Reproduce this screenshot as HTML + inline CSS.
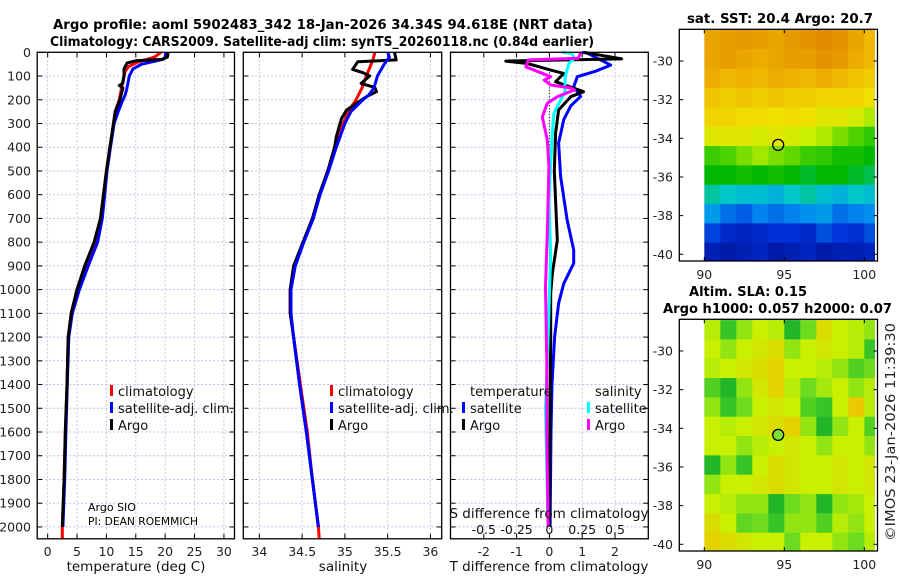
<!DOCTYPE html>
<html><head><meta charset="utf-8"><title>Argo profile</title>
<style>
html,body{margin:0;padding:0;background:#fff;}
svg{display:block;font-family:"DejaVu Sans","Liberation Sans",sans-serif;}
</style></head>
<body>
<svg id="fig" xmlns="http://www.w3.org/2000/svg" width="900" height="580" viewBox="0 0 900 580">
<rect x="0" y="0" width="900" height="580" fill="#fff"/>
<text x="53" y="29" font-size="13" font-weight="bold" textLength="540" lengthAdjust="spacingAndGlyphs">Argo profile: aoml 5902483_342 18-Jan-2026 34.34S 94.618E (NRT data)</text>
<text x="50" y="46" font-size="13" font-weight="bold" textLength="544" lengthAdjust="spacingAndGlyphs">Climatology: CARS2009. Satellite-adj clim: synTS_20260118.nc (0.84d earlier)</text>
<g id="layer"></g>
<text x="687" y="23" font-size="13" font-weight="bold" textLength="186" lengthAdjust="spacingAndGlyphs">sat. SST: 20.4 Argo: 20.7</text>
<text x="689" y="296" font-size="13" font-weight="bold" textLength="118" lengthAdjust="spacingAndGlyphs">Altim. SLA: 0.15</text>
<text x="663" y="313" font-size="13" font-weight="bold" textLength="229" lengthAdjust="spacingAndGlyphs">Argo h1000: 0.057 h2000: 0.07</text>
<text x="0" y="0" font-size="13" fill="#222" text-anchor="middle" transform="translate(895,432) rotate(-90)" textLength="218" lengthAdjust="spacingAndGlyphs">©IMOS 23-Jan-2026 11:39:30</text>
<text x="88" y="511" font-size="11">Argo SIO</text>
<text x="88" y="525" font-size="11" textLength="110" lengthAdjust="spacingAndGlyphs">PI: DEAN ROEMMICH</text>
</svg>
<script>
// ---------- data ----------
const depthTicks = [0,100,200,300,400,500,600,700,800,900,1000,1100,1200,1300,1400,1500,1600,1700,1800,1900,2000];
const tempTicks = [0,5,10,15,20,25,30];
const salTicks = [34,34.5,35,35.5,36];
const salTickLabels = ["34","34.5","35","35.5","36"];
const dTTicks = [-2,-1,0,1,2];
const dSTicks = [-0.5,-0.25,0,0.25,0.5];
const dSTickLabels = ["-0.5","-0.25","0","0.25","0.5"];

const climTempDepth = [0,20,40,60,80,120,160,200,250,300,400,500,600,700,800,900,1000,1100,1200,1400,1600,1800,2000,2050];
const climTempVal = [19.3,18.2,15.5,13.8,13.2,12.8,12.5,12.2,11.5,11.2,10.6,10.0,9.5,9.0,8.0,6.4,5.0,4.0,3.5,3.3,3.0,2.8,2.5,2.5];
const satTempDepth = [0,20,30,50,70,100,150,180,200,250,300,400,500,600,700,800,900,1000,1100,1200,1400,1600,1800,2000];
const satTempVal = [20.1,20.0,19.6,16.0,14.5,13.9,13.5,13.2,12.8,12.0,11.3,10.7,10.1,9.7,9.3,8.5,6.9,5.4,4.2,3.6,3.35,3.1,2.9,2.6];
const argoTempDepth = [0,20,30,36,45,70,100,130,140,150,200,250,300,400,500,600,700,800,900,1000,1100,1200,1400,1600,1800,2000];
const argoTempVal = [20.5,20.4,19.5,15.0,13.5,13.0,13.0,12.8,12.2,12.8,12.3,11.5,11.2,10.6,10.0,9.5,9.0,7.9,6.3,5.0,4.0,3.5,3.3,3.0,2.8,2.5];

const climSalDepth = [0,30,100,150,200,250,300,400,500,600,700,800,900,1000,1100,1200,1400,1600,1800,2000,2050];
const climSalVal = [35.35,35.33,35.25,35.2,35.13,35.04,34.98,34.88,34.80,34.70,34.63,34.51,34.41,34.36,34.36,34.40,34.48,34.56,34.62,34.69,34.70];
const satSalDepth = [0,20,50,100,150,180,200,250,300,400,500,600,700,800,900,1000,1100,1200,1400,1600,1800,2000];
const satSalVal = [35.5,35.52,35.46,35.38,35.34,35.28,35.21,35.07,35.0,34.9,34.81,34.71,34.63,34.52,34.42,34.37,34.37,34.40,34.47,34.55,34.62,34.69];
const argoSalDepth = [0,32,40,72,86,100,131,148,166,187,243,279,356,400,500,600,700,800,900,1000,1100,1200,1400,1600,1800,2000];
const argoSalVal = [35.58,35.6,35.15,35.09,35.21,35.29,35.19,35.35,35.37,35.25,35.02,34.96,34.9,34.88,34.80,34.70,34.62,34.51,34.40,34.36,34.36,34.40,34.47,34.55,34.62,34.69];

const dTSatDepth = [0,3,54,80,103,145,186,226,283,382,523,706,833,889,974,1058,1200,1400,1600,2000];
const dTSatVal = [1.0,1.15,1.87,1.4,0.85,0.74,0.95,0.65,0.44,0.28,0.34,0.54,0.74,0.74,0.44,0.28,0.16,0.08,0.05,0.02];
const dTArgoDepth = [0,28,37,47,75,89,124,166,187,243,341,500,792,931,1015,1200,1500,2000];
const dTArgoVal = [1.05,2.2,-1.33,-0.67,0.04,0.44,0.19,1.04,0.65,0.28,0.19,0.15,0.24,0.09,0.04,0.04,0.02,0.0];
const dSSatDepth = [0,5,25,46,103,166,201,257,342,623,848,1200,1500,2000];
const dSSatVal = [0.1,0.17,0.19,0.15,0.12,0.12,0.085,0.034,0.022,-0.004,0.01,-0.01,-0.03,-0.01];
const dSArgoDepth = [0,25,32,61,103,117,138,150,159,187,215,272,370,483,763,989,1300,1600,2000];
const dSArgoVal = [0.24,0.22,-0.16,-0.18,0.01,-0.04,0.01,0.16,0.19,0.06,-0.016,-0.054,-0.016,-0.004,-0.016,-0.03,-0.02,-0.02,-0.01];

const lonTicks = [90,95,100];
const latTicks = [-30,-32,-34,-36,-38,-40];
const gridLon0 = 90;
const gridLat0 = -28.4;
const argoLon = 94.618;
const argoLat = -34.34;
const sstGrid = [
 [0.9,0.92,0.93,0.92,0.9,0.93,0.95,0.97,0.95,0.9,0.85],
 [0.9,0.92,0.9,0.88,0.9,0.92,0.92,0.95,0.93,0.88,0.85],
 [0.88,0.85,0.87,0.85,0.88,0.87,0.85,0.88,0.85,0.82,0.8],
 [0.82,0.8,0.82,0.8,0.82,0.8,0.8,0.78,0.78,0.78,0.75],
 [0.78,0.78,0.76,0.76,0.75,0.76,0.75,0.72,0.72,0.7,0.66],
 [0.72,0.72,0.72,0.7,0.72,0.7,0.68,0.66,0.62,0.58,0.55],
 [0.56,0.58,0.62,0.65,0.62,0.6,0.56,0.55,0.52,0.52,0.5],
 [0.5,0.5,0.52,0.5,0.52,0.5,0.48,0.5,0.5,0.48,0.46],
 [0.42,0.4,0.38,0.38,0.36,0.4,0.42,0.38,0.36,0.4,0.38],
 [0.32,0.25,0.22,0.28,0.25,0.28,0.3,0.32,0.25,0.28,0.3],
 [0.18,0.12,0.1,0.12,0.15,0.15,0.12,0.2,0.16,0.14,0.2],
 [0.08,0.06,0.08,0.1,0.06,0.08,0.1,0.06,0.08,0.08,0.1]
];
const slaGrid = [
 [0.7,0.3,0.6,0.75,0.7,0.2,0.5,0.85,0.75,0.7,0.6],
 [0.75,0.6,0.75,0.8,0.85,0.6,0.75,0.8,0.75,0.7,0.3],
 [0.7,0.75,0.8,0.85,0.9,0.75,0.75,0.7,0.6,0.4,0.5],
 [0.4,0.2,0.6,0.8,0.9,0.7,0.5,0.65,0.75,0.6,0.7],
 [0.6,0.3,0.5,0.75,0.8,0.75,0.4,0.3,0.75,0.95,0.7],
 [0.75,0.7,0.75,0.8,0.85,0.9,0.6,0.2,0.6,0.75,0.4],
 [0.75,0.75,0.6,0.7,0.75,0.8,0.75,0.6,0.75,0.75,0.6],
 [0.2,0.6,0.3,0.75,0.85,0.8,0.75,0.75,0.8,0.75,0.8],
 [0.6,0.75,0.75,0.8,0.85,0.8,0.75,0.75,0.8,0.75,0.8],
 [0.75,0.7,0.6,0.6,0.2,0.5,0.6,0.2,0.6,0.65,0.75],
 [0.85,0.75,0.45,0.5,0.3,0.6,0.6,0.4,0.7,0.6,0.75],
 [0.9,0.85,0.8,0.75,0.75,0.5,0.75,0.75,0.6,0.5,0.7]
];

// ---------- helpers ----------
const NS = "http://www.w3.org/2000/svg";
const layer = document.getElementById("layer");
function mk(tag, attrs, parent) {
  const e = document.createElementNS(NS, tag);
  for (const k in attrs) e.setAttribute(k, attrs[k]);
  (parent || layer).appendChild(e);
  return e;
}
function lin(d0, d1, r0, r1) { return v => r0 + (v - d0) * (r1 - r0) / (d1 - d0); }

const Y_TOP = 52.3, Y_BOT = 538.8;
const yDepth = lin(0, 2050, Y_TOP, Y_BOT);

const panels = [
  {name: "temperature-panel", x0: 37.2, x1: 234.5, dom: [-1.78, 31.8]},
  {name: "salinity-panel", x0: 243.3, x1: 441.7, dom: [33.812, 36.132]},
  {name: "difference-panel", x0: 450.5, x1: 648.3, dom: [-3.015, 3.015]}
];
panels.forEach(p => { p.x = lin(p.dom[0], p.dom[1], p.x0, p.x1); });
const xT = panels[0].x, xS = panels[1].x, xDT = panels[2].x;
const xDS = v => xDT(v * 4);

function gridAndFrame(p, xt, labels, labelY, showY) {
  const g = mk("g", {});
  
  
  depthTicks.forEach(d => {
    const y = yDepth(d);
    const l = mk("line", {x1: p.x0, x2: p.x1, y1: y, y2: y, stroke: "#b8c2e6", "stroke-width": 1, "stroke-dasharray": "2,2"}, g);
    
    
    mk("line", {x1: p.x0, x2: p.x0 + 5, y1: y, y2: y, stroke: "#000", "stroke-width": 1}, g);
    mk("line", {x1: p.x1 - 5, x2: p.x1, y1: y, y2: y, stroke: "#000", "stroke-width": 1}, g);
    if (showY) {
      const t = mk("text", {x: 31, y: y + 4.5, "font-size": 12.5, "text-anchor": "end", fill: "#222"});
      
      
      t.textContent = String(d);
    }
  });
  xt.forEach((v, i) => {
    const x = p.x(v);
    const l = mk("line", {x1: x, x2: x, y1: Y_TOP, y2: Y_BOT, stroke: "#c4c4e4", "stroke-width": 1, "stroke-dasharray": "2,2"}, g);
    
    
    mk("line", {x1: x, x2: x, y1: Y_TOP, y2: Y_TOP + 5, stroke: "#000"}, g);
    mk("line", {x1: x, x2: x, y1: Y_BOT - 5, y2: Y_BOT, stroke: "#000"}, g);
    const t = mk("text", {x: x, y: labelY, "font-size": 12.5, "text-anchor": "middle", fill: "#222"});
    
    
    t.textContent = labels[i];
  });
  return g;
}
function frame(p) {
  const r = mk("rect", {x: p.x0, y: Y_TOP, width: p.x1 - p.x0, height: Y_BOT - Y_TOP, fill: "none", stroke: "#000", "stroke-width": 1.3});
  
  
}
function profile(depths, vals, xf, color, name, w) {
  const pts = depths.map((d, i) => xf(vals[i]).toFixed(1) + "," + yDepth(d).toFixed(1)).join(" ");
  const pl = mk("polyline", {points: pts, fill: "none", stroke: color, "stroke-width": w || 3, "stroke-linejoin": "round"});
  
  
}
function txt(x, y, s, name, size, anchor) {
  const t = mk("text", {x: x, y: y, "font-size": size || 13, "text-anchor": anchor || "start", fill: "#111"});
  
  
  t.textContent = s;
  return t;
}
function legBar(x, y, color, name) {
  const r = mk("rect", {x: x - 1.5, y: y - 11, width: 3, height: 11, fill: color});
  
  
}

// ---------- panel 1: temperature ----------
gridAndFrame(panels[0], tempTicks, tempTicks.map(String), 556, true);
profile(climTempDepth, climTempVal, xT, "#ff0000", "temp-climatology-line");
profile(satTempDepth, satTempVal, xT, "#0000ff", "temp-satellite-line");
profile(argoTempDepth, argoTempVal, xT, "#000000", "temp-argo-line");
frame(panels[0]);
txt(136, 571, "temperature (deg C)", "temperature-axis-title", 13.5, "middle");
legBar(111.5, 396, "#ff0000", "legend-climatology-swatch");
txt(118, 396, "climatology", "legend-climatology");
legBar(111.5, 413, "#0000ff", "legend-satellite-swatch");
txt(118, 413, "satellite-adj. clim.", "legend-satellite-adj");
legBar(111.5, 430, "#000000", "legend-argo-swatch");
txt(118, 430, "Argo", "legend-argo");

// ---------- panel 2: salinity ----------
gridAndFrame(panels[1], salTicks, salTickLabels, 556, false);
profile(climSalDepth, climSalVal, xS, "#ff0000", "sal-climatology-line");
profile(argoSalDepth, argoSalVal, xS, "#000000", "sal-argo-line");
profile(satSalDepth, satSalVal, xS, "#0000ff", "sal-satellite-line");
frame(panels[1]);
txt(343, 571, "salinity", "salinity-axis-title", 13.5, "middle");
legBar(331.5, 396, "#ff0000", "legend-climatology-swatch");
txt(338, 396, "climatology", "legend-climatology");
legBar(331.5, 413, "#0000ff", "legend-satellite-swatch");
txt(338, 413, "satellite-adj. clim.", "legend-satellite-adj");
legBar(331.5, 430, "#000000", "legend-argo-swatch");
txt(338, 430, "Argo", "legend-argo");

// ---------- panel 3: differences ----------
gridAndFrame(panels[2], dTTicks, dTTicks.map(String), 556, false);
const zl = mk("line", {x1: xDT(0), x2: xDT(0), y1: Y_TOP + 20, y2: Y_BOT - 10, stroke: "#000", "stroke-width": 1, "stroke-dasharray": "1,2"});


profile(dTSatDepth, dTSatVal, xDT, "#0000ff", "dT-satellite-line");
profile(dTArgoDepth, dTArgoVal, xDT, "#000000", "dT-argo-line");
profile(dSSatDepth, dSSatVal, xDS, "#00ffff", "dS-satellite-line");
profile(dSArgoDepth, dSArgoVal, xDS, "#ff00ff", "dS-argo-line");
frame(panels[2]);
txt(549, 571, "T difference from climatology", "t-difference-axis-title", 13.5, "middle");
txt(549, 518, "S difference from climatology", "s-difference-axis-title", 13.5, "middle");
dSTicks.forEach((v, i) => txt(xDS(v), 534, dSTickLabels[i], "s-diff-tick-label", 12.5, "middle"));
txt(470, 396, "temperature", "legend-temperature-heading");
txt(595, 396, "salinity", "legend-salinity-heading");
legBar(463.5, 413, "#0000ff", "legend-t-satellite-swatch");
txt(470, 413, "satellite", "legend-t-satellite");
legBar(463.5, 430, "#000000", "legend-t-argo-swatch");
txt(470, 430, "Argo", "legend-t-argo");
legBar(588.5, 413, "#00ffff", "legend-s-satellite-swatch");
txt(595, 413, "satellite", "legend-s-satellite");
legBar(588.5, 430, "#ff00ff", "legend-s-argo-swatch");
txt(595, 430, "Argo", "legend-s-argo");

// ---------- maps ----------
function interp(stops, v) {
  v = Math.max(0, Math.min(1, v));
  for (let i = 1; i < stops.length; i++) {
    if (v <= stops[i][0]) {
      const a = stops[i - 1], b = stops[i], f = (v - a[0]) / (b[0] - a[0]);
      const c = [0, 1, 2].map(k => Math.round(a[1][k] + (b[1][k] - a[1][k]) * f));
      return "rgb(" + c.join(",") + ")";
    }
  }
  const l = stops[stops.length - 1][1];
  return "rgb(" + l.join(",") + ")";
}
const sstStops = [[0,[0,12,140]],[0.15,[0,48,216]],[0.3,[0,144,240]],[0.4,[0,200,200]],[0.5,[0,184,0]],[0.6,[96,216,0]],[0.68,[200,240,0]],[0.75,[240,224,0]],[0.85,[240,184,0]],[1,[224,128,0]]];
const slaStops = [[0,[10,150,40]],[0.25,[40,190,40]],[0.5,[110,220,30]],[0.75,[200,240,0]],[1,[245,190,0]]];

function drawMap(name, top, bottom, grid, stops, markerFill, lonLabelY) {
  const box = {x0: 679.3, x1: 877.5, y0: top, y1: bottom};
  const xLon = lin(90, 100, 704.3, 864.3);
  const latTopVal = -30 + (61 - 29.3) / 19.33;
  const yLat = lin(latTopVal, latTopVal - (261 - 29.3) / 19.33, top, bottom);
  const g = mk("g", {});
  
  
  const clipId = name + "-clip";
  const cp = mk("clipPath", {id: clipId}, g);
  mk("rect", {x: box.x0, y: box.y0, width: 875 - box.x0, height: box.y1 - box.y0}, cp);
  const cells = mk("g", {"clip-path": "url(#" + clipId + ")"}, g);
  grid.forEach((row, r) => row.forEach((v, c) => {
    const x0 = xLon(gridLon0 + c), x1 = xLon(gridLon0 + c + 1);
    const y0 = yLat(gridLat0 - r), y1 = yLat(gridLat0 - r - 1);
    const rc = mk("rect", {x: x0.toFixed(2), y: y0.toFixed(2), width: (x1 - x0 + 0.4).toFixed(2), height: (y1 - y0 + 0.4).toFixed(2), fill: interp(stops, v)}, cells);
    
    
  }));
  const fr = mk("rect", {x: box.x0, y: box.y0, width: box.x1 - box.x0, height: box.y1 - box.y0, fill: "none", stroke: "#000", "stroke-width": 1.3}, g);
  
  
  lonTicks.forEach(v => {
    const x = xLon(v);
    mk("line", {x1: x, x2: x, y1: box.y1, y2: box.y1 - 4, stroke: "#000"}, g);
    mk("line", {x1: x, x2: x, y1: box.y0, y2: box.y0 + 4, stroke: "#000"}, g);
    const t = mk("text", {x: x, y: lonLabelY, "font-size": 12.5, "text-anchor": "middle", fill: "#222"}, g);
    
    
    t.textContent = String(v);
  });
  latTicks.forEach(v => {
    const y = yLat(v);
    mk("line", {x1: box.x0, x2: box.x0 + 4, y1: y, y2: y, stroke: "#000"}, g);
    mk("line", {x1: box.x1, x2: box.x1 - 4, y1: y, y2: y, stroke: "#000"}, g);
    const t = mk("text", {x: 673, y: y + 4.5, "font-size": 12.5, "text-anchor": "end", fill: "#222"}, g);
    
    
    t.textContent = String(v);
  });
  const m = mk("circle", {cx: xLon(argoLon), cy: yLat(argoLat), r: 5.5, fill: markerFill, stroke: "#000", "stroke-width": 1.3}, g);
  
  
}
drawMap("sst-map", 29.3, 261, sstGrid, sstStops, "none", 279);
drawMap("sla-map", 319.3, 551, slaGrid, slaStops, "#80e030", 569);
</script>
</body></html>
